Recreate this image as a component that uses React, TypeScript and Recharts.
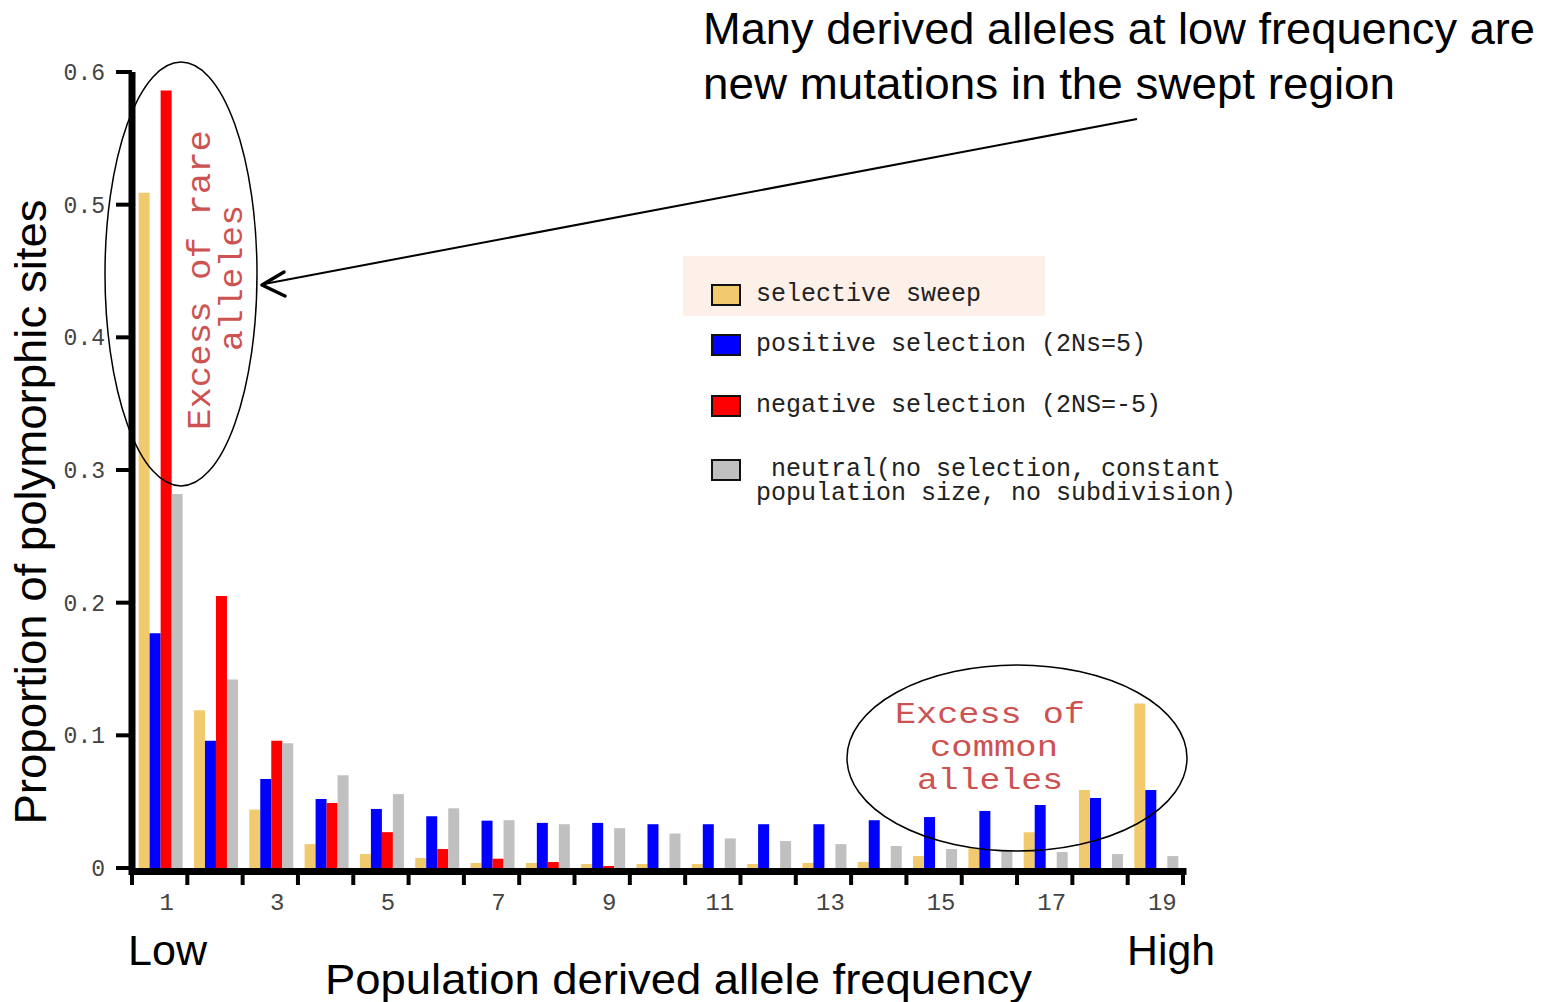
import { BarChart, Bar, XAxis, YAxis, Legend } from "recharts";

// derived allele frequency classes (out of 20 chromosomes)
const freqClasses = ["1", "2", "3", "4", "5", "6", "7", "8", "9", "10", "11", "12", "13", "14", "15", "16", "17", "18", "19"];

const sweep = [0.509, 0.119, 0.044, 0.018, 0.0105, 0.0075, 0.0038, 0.0038, 0.003, 0.003, 0.003, 0.003, 0.0038, 0.0045, 0.009, 0.015, 0.027, 0.0588, 0.124];
const positive = [0.177, 0.096, 0.067, 0.052, 0.0445, 0.039, 0.0357, 0.034, 0.034, 0.033, 0.033, 0.033, 0.033, 0.036, 0.0384, 0.043, 0.0475, 0.0528, 0.0588];
const negative = [0.586, 0.205, 0.096, 0.049, 0.027, 0.0143, 0.007, 0.0045, 0.0015, 0, 0, 0, 0, 0, 0, 0, 0, 0, 0];
const neutral = [0.282, 0.142, 0.094, 0.07, 0.0557, 0.045, 0.036, 0.033, 0.03, 0.026, 0.0223, 0.0203, 0.018, 0.0166, 0.0143, 0.0128, 0.012, 0.0105, 0.009];

const seriesOrder = ["sweep", "positive", "negative", "neutral"];
const yTicks = [0, 0.1, 0.2, 0.3, 0.4, 0.5, 0.6];

const rows = freqClasses.map((f, i) => ({
  freq: f,
  sweep: sweep[i],
  positive: positive[i],
  negative: negative[i],
  neutral: neutral[i],
}));

const MONO = "'Liberation Mono', 'DejaVu Sans Mono', monospace";
const NARROW = "'Liberation Sans Narrow', 'Liberation Sans', Arial, sans-serif";
const NOTE_RED = "#cd5252";

// tick lines sit on the class boundaries, labels on every other class
function FreqTick(props: any) {
  const { x, y, payload, index, visibleTicksCount } = props;
  const half = payload.offset;
  const last = index === visibleTicksCount - 1;
  return (
    <g>
      <line x1={x - half} x2={x - half} y1={y} y2={y + 17} stroke="#000" strokeWidth={4} />
      {last && <line x1={x + half} x2={x + half} y1={y} y2={y + 17} stroke="#000" strokeWidth={4} />}
      {index % 2 === 0 && (
        <text x={x + 7} y={y + 25} dy="0.71em" textAnchor="middle" fontFamily={MONO} fontSize={24} fill="#444">
          {payload.value}
        </text>
      )}
    </g>
  );
}

const legendRowTop = [27, 77, 138, 202];

function SeriesLegend({ payload }: any) {
  const items = [...(payload || [])].sort(
    (a: any, b: any) => seriesOrder.indexOf(a.dataKey) - seriesOrder.indexOf(b.dataKey)
  );
  return (
    <div style={{ position: "relative", width: 600, height: 270, fontFamily: MONO, fontSize: 25, color: "#222" }}>
      <div style={{ position: "absolute", left: 0, top: 0, width: 362, height: 60, background: "#fdf0e8" }} />
      {items.map((p: any, i: number) => (
        <div key={p.value} style={{ position: "absolute", left: 28, top: legendRowTop[i], display: "flex", alignItems: "flex-start" }}>
          <div style={{ width: 26, height: 18, marginTop: 1, background: p.color, border: "2px solid #111" }} />
          <div style={{ marginLeft: 15, lineHeight: "24px", whiteSpace: "pre" }}>{p.value}</div>
        </div>
      ))}
    </div>
  );
}

export default function App() {
  return (
    <div style={{ position: "absolute", left: 0, top: 0, width: 1542, height: 1002, background: "#fff" }}>
      <BarChart
        width={1542}
        height={1002}
        data={rows}
        margin={{ top: 72, right: 359, left: 72, bottom: 94 }}
        barCategoryGap="12%"
        barGap={0}
      >
        <XAxis
          dataKey="freq"
          interval={0}
          height={40}
          tickSize={0}
          tickMargin={0}
          tickLine={false}
          axisLine={{ stroke: "#000", strokeWidth: 7, strokeLinecap: "square", transform: "translate(0,3.5)" }}
          tick={(props: any) => <FreqTick {...props} />}
        />
        <YAxis
          domain={[0, 0.6]}
          ticks={yTicks}
          width={60}
          tickSize={16}
          tickMargin={11}
          axisLine={{ stroke: "#000", strokeWidth: 7 }}
          tickLine={{ stroke: "#000", strokeWidth: 4 }}
          tick={{ fontFamily: MONO, fontSize: 23, fill: "#444" }}
          tickFormatter={(v: number) => (v === 0 ? "0" : v.toFixed(1))}
        />
        <Legend
          layout="vertical"
          align="center"
          verticalAlign="middle"
          content={<SeriesLegend />}
          wrapperStyle={{ left: 683, top: 256, width: 600, height: 270 }}
        />
        <Bar dataKey="sweep" name="selective sweep" fill="#f2ca6e" isAnimationActive={false} />
        <Bar dataKey="positive" name="positive selection (2Ns=5)" fill="#0000ff" isAnimationActive={false} />
        <Bar dataKey="negative" name="negative selection (2NS=-5)" fill="#ff0000" isAnimationActive={false} />
        <Bar
          dataKey="neutral"
          name={" neutral(no selection, constant\npopulation size, no subdivision)"}
          fill="#c0c0c0"
          isAnimationActive={false}
        />
      </BarChart>

      <svg width={1542} height={1002} style={{ position: "absolute", left: 0, top: 0, pointerEvents: "none" }}>
        {/* axis titles */}
        <text
          transform="translate(46,512) rotate(-90)"
          textAnchor="middle"
          fontFamily={NARROW}
          fontSize={44}
          textLength={625}
          lengthAdjust="spacingAndGlyphs"
          fill="#000"
        >
          Proportion of polymorphic sites
        </text>
        <text x={325} y={994} fontFamily={NARROW} fontSize={43} textLength={707} lengthAdjust="spacingAndGlyphs">
          Population derived allele frequency
        </text>
        <text x={128} y={965} fontFamily={NARROW} fontSize={43} textLength={79} lengthAdjust="spacingAndGlyphs">
          Low
        </text>
        <text x={1127} y={965} fontFamily={NARROW} fontSize={43} textLength={88} lengthAdjust="spacingAndGlyphs">
          High
        </text>

        {/* callout */}
        <text x={703} y={44} fontFamily={NARROW} fontSize={45} textLength={832} lengthAdjust="spacingAndGlyphs">
          Many derived alleles at low frequency are
        </text>
        <text x={703} y={99} fontFamily={NARROW} fontSize={45} textLength={692} lengthAdjust="spacingAndGlyphs">
          new mutations in the swept region
        </text>
        <line x1={1137} y1={119} x2={264} y2={284} stroke="#000" strokeWidth={2} />
        <polyline points="284,272 262,285 285,296" fill="none" stroke="#000" strokeWidth={3.5} strokeLinecap="round" strokeLinejoin="round" />

        {/* rare alleles */}
        <ellipse cx={181} cy={274} rx={76} ry={212} fill="none" stroke="#000" strokeWidth={1.5} />
        <text
          transform="translate(201,280) rotate(-90)"
          textAnchor="middle"
          dominantBaseline="central"
          fontFamily={MONO}
          fontSize={34}
          textLength={300}
          lengthAdjust="spacingAndGlyphs"
          fill={NOTE_RED}
        >
          Excess of rare
        </text>
        <text
          transform="translate(233,278) rotate(-90)"
          textAnchor="middle"
          dominantBaseline="central"
          fontFamily={MONO}
          fontSize={34}
          textLength={146}
          lengthAdjust="spacingAndGlyphs"
          fill={NOTE_RED}
        >
          alleles
        </text>

        {/* common alleles */}
        <ellipse cx={1017} cy={758} rx={170} ry={93} fill="none" stroke="#000" strokeWidth={1.5} />
        <text x={990} y={723} textAnchor="middle" fontFamily={MONO} fontSize={29} textLength={190} lengthAdjust="spacingAndGlyphs" fill={NOTE_RED}>
          Excess of
        </text>
        <text x={994} y={756} textAnchor="middle" fontFamily={MONO} fontSize={29} textLength={128} lengthAdjust="spacingAndGlyphs" fill={NOTE_RED}>
          common
        </text>
        <text x={990} y={789} textAnchor="middle" fontFamily={MONO} fontSize={29} textLength={146} lengthAdjust="spacingAndGlyphs" fill={NOTE_RED}>
          alleles
        </text>
      </svg>
    </div>
  );
}
